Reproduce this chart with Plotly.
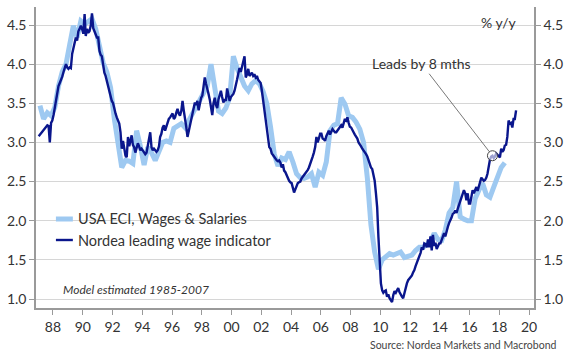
import plotly.graph_objects as go

# ---------------- data ----------------
eci_years = list(range(1987, 2019))
eci_values = [
    3.47, 3.30, 3.38, 3.34,   # 1987
    3.45, 3.72, 3.90, 4.00,   # 1988
    4.25, 4.49, 4.34, 4.55,   # 1989
    4.51, 4.55, 4.58, 4.45,   # 1990
    4.20, 4.02, 3.90, 3.70,   # 1991
    3.30, 3.00, 2.68, 2.77,   # 1992
    2.76, 2.73, 3.15, 2.95,   # 1993
    2.71, 2.94, 2.87, 2.77,   # 1994
    2.90, 3.00, 3.02, 3.00,   # 1995
    3.18, 3.22, 3.24, 3.19,   # 1996
    3.28, 3.37, 3.45, 3.55,   # 1997
    3.65, 3.72, 4.00, 3.65,   # 1998
    3.40, 3.37, 3.44, 3.57,   # 1999
    4.10, 3.95, 3.85, 3.72,   # 2000
    3.66, 3.75, 3.79, 3.75,   # 2001
    3.65, 3.50, 3.20, 2.85,   # 2002
    2.70, 2.80, 2.78, 2.88,   # 2003
    2.75, 2.60, 2.55, 2.54,   # 2004
    2.56, 2.60, 2.43, 2.62,   # 2005
    2.58, 2.75, 3.15, 3.22,   # 2006
    3.24, 3.57, 3.49, 3.34,   # 2007
    3.32, 3.26, 3.17, 3.00,   # 2008
    2.55, 1.95, 1.60, 1.38,   # 2009
    1.50, 1.55, 1.58, 1.56,   # 2010
    1.58, 1.60, 1.53, 1.54,   # 2011
    1.56, 1.62, 1.66, 1.66,   # 2012
    1.69, 1.73, 1.84, 1.76,   # 2013
    1.75, 1.88, 2.10, 2.17,   # 2014
    2.50, 2.05, 2.02, 2.00,   # 2015
    2.00, 2.28, 2.39, 2.48,   # 2016
    2.33, 2.30, 2.43, 2.58,   # 2017
    2.68, 2.74,               # 2018
]
eci_dates = [f"{y}-{m:02d}-15" for y in eci_years for m in (2, 5, 8, 11)][:len(eci_values)]

nordea_values = [
    3.08, 3.10, 3.12, 3.14, 3.16, 3.18, 3.20, 3.22, 3.21, 3.00, 3.25, 3.28,   # 1987
    3.35, 3.45, 3.55, 3.68, 3.72, 3.76, 3.79, 3.84, 3.90, 3.96, 4.00, 3.96,   # 1988
    3.94, 3.96, 3.95, 4.13, 4.20, 4.26, 4.34, 4.30, 4.42, 4.45, 4.49, 4.45,   # 1989
    4.39, 4.64, 4.36, 4.45, 4.40, 4.42, 4.49, 4.65, 4.46, 4.42, 4.38, 4.34,   # 1990
    4.34, 4.17, 4.12, 4.10, 4.00, 3.89, 3.85, 3.78, 3.70, 3.65, 3.58, 3.53,   # 1991
    3.50, 3.42, 3.37, 3.32, 3.28, 3.24, 3.13, 2.92, 3.02, 2.94, 2.83, 2.81,   # 1992
    3.07, 2.95, 3.02, 3.09, 2.97, 2.94, 2.87, 2.92, 2.99, 2.95, 2.90, 2.92,   # 1993
    2.90, 2.88, 2.85, 2.87, 2.95, 3.05, 3.13, 2.94, 2.90, 2.92, 2.90, 2.88,   # 1994
    2.90, 2.95, 3.07, 3.11, 3.19, 3.22, 3.15, 3.20, 3.28, 3.30, 3.32, 3.35,   # 1995
    3.37, 3.30, 3.32, 3.38, 3.43, 3.37, 3.34, 3.40, 3.53, 3.41, 3.32, 3.20,   # 1996
    3.07, 3.15, 3.24, 3.32, 3.38, 3.44, 3.51, 3.48, 3.53, 3.41, 3.50, 3.57,   # 1997
    3.60, 3.70, 3.83, 3.75, 3.70, 3.62, 3.55, 3.45, 3.35, 3.50, 3.57, 3.48,   # 1998
    3.44, 3.55, 3.62, 3.66, 3.58, 3.51, 3.55, 3.53, 3.69, 3.60, 3.53, 3.58,   # 1999
    3.60, 3.62, 3.66, 3.72, 3.80, 3.88, 3.95, 3.90, 3.98, 4.04, 4.10, 3.83,   # 2000
    3.87, 3.94, 3.85, 3.87, 3.89, 3.85, 3.87, 3.83, 3.85, 3.80, 3.78, 3.76,   # 2001
    3.66, 3.53, 3.44, 3.32, 3.19, 3.05, 2.94, 2.92, 2.86, 2.84, 2.81, 2.79,   # 2002
    2.77, 2.76, 2.77, 2.74, 2.68, 2.72, 2.64, 2.62, 2.58, 2.53, 2.51, 2.49,   # 2003
    2.48, 2.42, 2.36, 2.40, 2.45, 2.48, 2.49, 2.50, 2.54, 2.56, 2.58, 2.60,   # 2004
    2.62, 2.65, 2.68, 2.72, 2.77, 2.82, 2.87, 2.94, 3.07, 3.00, 3.05, 3.11,   # 2005
    3.11, 3.05, 3.04, 3.02, 3.08, 3.13, 3.15, 3.10, 3.14, 3.17, 3.15, 3.13,   # 2006
    3.13, 3.15, 3.17, 3.20, 3.22, 3.19, 3.25, 3.30, 3.28, 3.32, 3.25, 3.20,   # 2007
    3.19, 3.15, 3.13, 3.10, 3.08, 3.05, 3.00, 2.98, 2.95, 2.92, 2.90, 2.87,   # 2008
    2.85, 2.82, 2.77, 2.72, 2.68, 2.66, 2.58, 2.51, 2.35, 2.17, 1.79, 1.41,   # 2009
    1.20, 1.11, 1.08, 1.10, 1.11, 1.03, 1.06, 1.01, 0.99, 0.96, 1.05, 1.10,   # 2010
    1.08, 1.11, 1.14, 1.09, 1.05, 1.03, 1.01, 1.08, 1.11, 1.20, 1.24, 1.26,   # 2011
    1.28, 1.30, 1.34, 1.37, 1.42, 1.46, 1.50, 1.55, 1.59, 1.66, 1.63, 1.71,   # 2012
    1.70, 1.66, 1.76, 1.66, 1.80, 1.62, 1.82, 1.68, 1.72, 1.64, 1.68, 1.71,   # 2013
    1.71, 1.75, 1.79, 1.84, 1.80, 1.88, 1.92, 1.97, 2.00, 2.04, 2.09, 2.10,   # 2014
    2.13, 2.10, 2.15, 2.20, 2.25, 2.30, 2.35, 2.39, 2.35, 2.26, 2.35, 2.22,   # 2015
    2.22, 2.30, 2.39, 2.35, 2.40, 2.43, 2.38, 2.45, 2.51, 2.55, 2.53, 2.51,   # 2016
    2.52, 2.55, 2.60, 2.70, 2.78, 2.82, 2.83, 2.80, 2.82, 2.86, 2.84, 2.82,   # 2017
    2.81, 2.92, 2.88, 2.90, 2.96, 2.97, 3.07, 3.28, 3.24, 3.25, 3.19, 3.30,   # 2018
    3.30, 3.41,                                                               # 2019
]
nordea_dates = [f"{y}-{m:02d}-15" for y in range(1987, 2020) for m in range(1, 13)][:len(nordea_values)]

tick_vals = [f"{y}-01-01" for y in range(1988, 2021, 2)]
tick_text = [f"{y % 100:02d}" for y in range(1988, 2021, 2)]
y_ticks = [1.0, 1.5, 2.0, 2.5, 3.0, 3.5, 4.0, 4.5]

series_names = ["USA ECI, Wages & Salaries", "Nordea leading wage indicator"]
lead_label = "Leads by 8 mths"
lead_index = nordea_dates.index("2017-07-15")

# ---------------- style ----------------
LIGHT = "#9ec9f1"
DARK = "#0a168c"
AXIS = "#9a9a9a"
GRID = "#d6d6d6"
TXT = "#333333"
FONT = "Lato"
YR = [0.885, 4.73]

fig = go.Figure()
fig.add_trace(go.Scatter(x=eci_dates, y=eci_values, mode="lines", name=series_names[0],
                         line=dict(color=LIGHT, width=5), yaxis="y"))
fig.add_trace(go.Scatter(x=nordea_dates, y=nordea_values, mode="lines", name=series_names[1],
                         line=dict(color=DARK, width=2.4), yaxis="y2"))

fig.update_layout(
    width=570, height=360,
    margin=dict(l=35, r=35, t=7, b=52),
    paper_bgcolor="white", plot_bgcolor="white",
    showlegend=False,
    font=dict(family=FONT, size=14, color=TXT),
    xaxis=dict(type="date", range=["1986-11-10", "2020-04-30"],
               tickvals=tick_vals, ticktext=tick_text,
               showgrid=False, showline=True, linecolor=AXIS, linewidth=1.5,
               ticks="outside", ticklen=5, tickcolor=AXIS, tickwidth=1.2,
               tickfont=dict(size=14, color=TXT), zeroline=False),
    yaxis=dict(range=YR, tickvals=y_ticks, tickformat=".1f",
               showgrid=True, gridcolor=GRID, gridwidth=1,
               showline=True, linecolor=AXIS, linewidth=1.5,
               ticks="outside", ticklen=5, tickcolor=AXIS, tickwidth=1.2,
               tickfont=dict(size=14, color=TXT), zeroline=False),
    yaxis2=dict(range=YR, tickvals=y_ticks, tickformat=".1f", overlaying="y", side="right",
                showgrid=False, showline=True, linecolor=AXIS, linewidth=1.5,
                ticks="outside", ticklen=5, tickcolor=AXIS, tickwidth=1.2,
                tickfont=dict(size=14, color=TXT), zeroline=False),
)

def px_x(px):
    return (px - 35) / 500.0

def px_y(py):
    return (308 - py) / 301.0

# manual legend
fig.add_shape(type="line", xref="paper", yref="paper", x0=px_x(55), x1=px_x(72),
              y0=px_y(219), y1=px_y(219), line=dict(color=LIGHT, width=5))
fig.add_shape(type="line", xref="paper", yref="paper", x0=px_x(55), x1=px_x(72),
              y0=px_y(240), y1=px_y(240), line=dict(color=DARK, width=2.4))
fig.add_annotation(xref="paper", yref="paper", x=px_x(75), y=px_y(219), text=series_names[0],
                   showarrow=False, xanchor="left", yanchor="middle", font=dict(size=14.5, color=TXT))
fig.add_annotation(xref="paper", yref="paper", x=px_x(75), y=px_y(240), text=series_names[1],
                   showarrow=False, xanchor="left", yanchor="middle", font=dict(size=14.5, color=TXT))

# texts
fig.add_annotation(xref="paper", yref="paper", x=px_x(519), y=px_y(22), text="% y/y",
                   showarrow=False, xanchor="right", yanchor="middle", font=dict(size=14, color=TXT))
fig.add_annotation(xref="paper", yref="paper", x=px_x(60), y=px_y(289), text="<i>Model estimated 1985-2007</i>",
                   showarrow=False, xanchor="left", yanchor="middle", font=dict(size=12, color=TXT))
fig.add_annotation(xref="paper", yref="paper", x=(560 - 35) / 500.0, y=px_y(345),
                   text="Source: Nordea Markets and Macrobond",
                   showarrow=False, xanchor="right", yanchor="middle", font=dict(size=10.5, color="#444"))

# lead annotation with circle
pt_x = nordea_dates[lead_index]
pt_y = nordea_values[lead_index]
fig.add_shape(type="circle", xref="x", yref="y", xsizemode="pixel", ysizemode="pixel",
              xanchor=pt_x, yanchor=pt_y, x0=-5, x1=5, y0=-5, y1=5,
              line=dict(color="#444", width=1), fillcolor="rgba(255,255,255,0.6)", layer="above")
fig.add_annotation(x=pt_x, y=pt_y, xref="x", yref="y", text=lead_label,
                   showarrow=True, arrowhead=0, arrowwidth=0.8, arrowcolor="#555",
                   ax=-71, ay=-92, standoff=5, font=dict(size=14, color=TXT))

fig.write_html("out.html", config={"displayModeBar": False},
               post_script="document.body.style.margin='0';")
